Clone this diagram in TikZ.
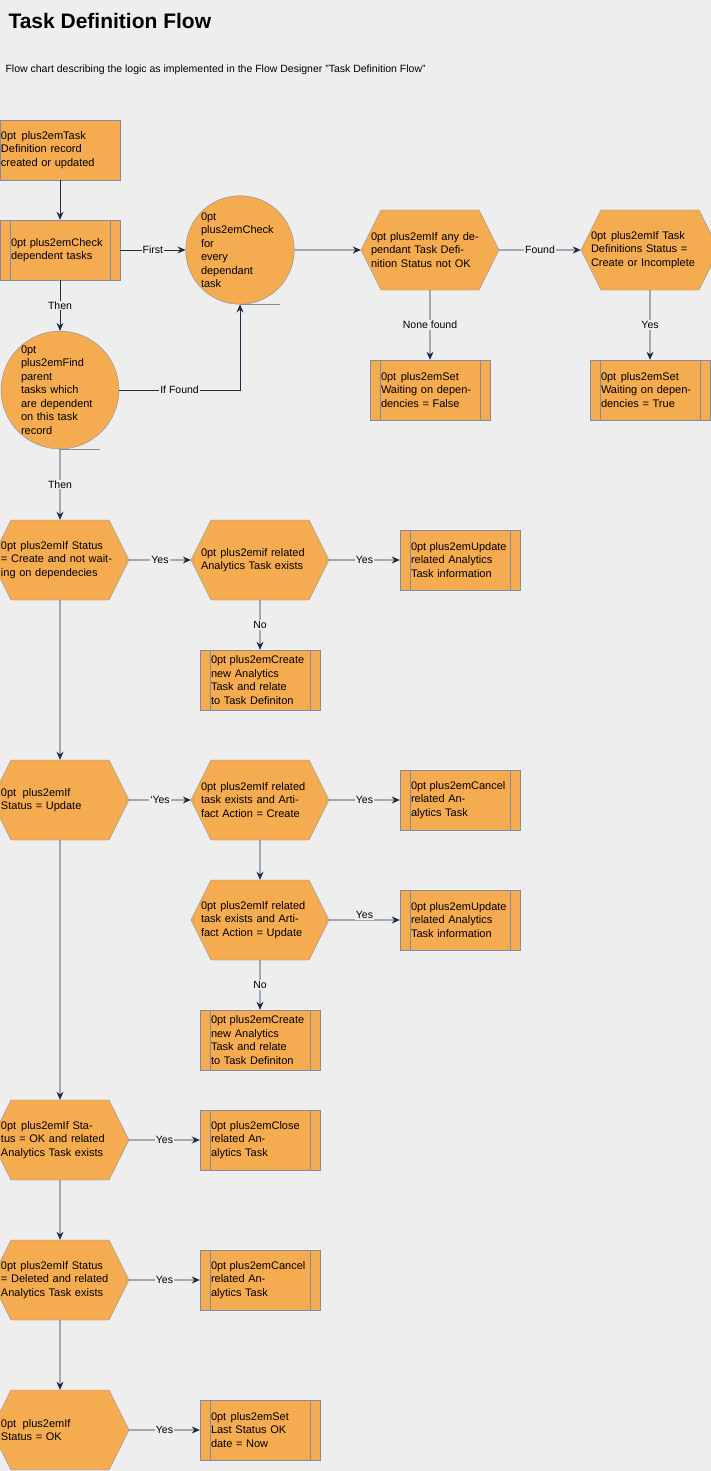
\documentclass[tikz,border=0pt]{standalone}
\usepackage{fontspec}
\setmainfont{Liberation Sans}
\usetikzlibrary{arrows.meta,shapes.symbols}
\definecolor{bgcol}{RGB}{238,238,238}
\definecolor{boxfill}{RGB}{245,171,80}
\definecolor{boxline}{RGB}{130,140,160}
\definecolor{flowline}{RGB}{26,45,70}

\begin{document}
\begin{tikzpicture}[x=1pt, y=-1pt,
  base/.style={draw=boxline, fill=boxfill, align=center, inner sep=1pt, font=\fontsize{11}{13.5}\selectfont\hyphenpenalty=10000},
  box/.style={base, rectangle, minimum width=120pt, minimum height=60pt, text width=118pt},
  proc/.style={box, text width=98pt, path picture={
      \draw[boxline] ([xshift=10pt]path picture bounding box.north west) -- ([xshift=10pt]path picture bounding box.south west);
      \draw[boxline] ([xshift=-10pt]path picture bounding box.north east) -- ([xshift=-10pt]path picture bounding box.south east);}},
  hex/.style={base, signal, signal to=east and west, signal pointer angle=126.9, minimum width=100pt, minimum height=80pt, text width=118pt, inner xsep=-10pt},
  loop/.style={base, circle, minimum size=80pt, text width=78pt, inner sep=0pt},
  arrow/.style={-{Stealth[length=8pt,width=7pt]}, draw=flowline, line width=0.8pt},
  lbl/.style={fill=bgcol, inner sep=1pt, font=\fontsize{10.5}{12}\selectfont}
]
  \fill[bgcol] (0,0) rectangle (711,1471);
  \useasboundingbox (0,0) rectangle (711,1471);
  \node[anchor=west, font=\fontsize{21}{24}\selectfont\bfseries] (title) at (5,21) {Task Definition Flow};
  \node[anchor=west, font=\fontsize{10.5}{12}\selectfont] (subtitle) at (2,70) {Flow chart describing the logic as implemented in the Flow Designer "Task Definition Flow"};

  % dependency check
  \node[box] (start) at (60,150) {Task Definition record created or updated};
  \node[proc] (check) at (60,250) {Check\\dependent tasks};
  \node[loop] (every) at (240,250) {Check for\\every\\dependant\\task};
  \node[loop] (parent) at (60,390) {Find parent\\tasks which\\are dependent\\on this task\\record};
  \node[hex] (anydep) at (430,250) {If any dependant Task Definition Status not OK};
  \node[hex] (defstat) at (650,250) {If Task Definitions Status = Create or Incomplete};
  \node[proc] (setfalse) at (430,390) {Set Waiting on dependencies = False};
  \node[proc] (settrue) at (650,390) {Set Waiting on dependencies = True};
  \draw[boxline] (every.south) -- ++(40,0);
  \draw[boxline] (parent.south) -- ++(40,0);

  % status create
  \node[hex] (ifcreate) at (60,560) {If Status = Create and not waiting on dependecies};
  \node[hex] (ifanalytics) at (260,560) {if related Analytics Task exists};
  \node[proc] (updrelA) at (460,560) {Update related Analytics Task information};
  \node[proc] (newA) at (260,680) {Create new Analytics Task and relate to Task Definiton};

  % status update
  \node[hex] (ifupdate) at (60,800) {If Status = Update};
  \node[hex] (ifrelcreate) at (260,800) {If related task exists and Artifact Action = Create};
  \node[proc] (cancelA) at (460,800) {Cancel related Analytics Task};
  \node[hex] (ifrelupdate) at (260,920) {If related task exists and Artifact Action = Update};
  \node[proc] (updrelB) at (460,920) {Update related Analytics Task information};
  \node[proc] (newB) at (260,1040) {Create new Analytics Task and relate to Task Definiton};

  % remaining states
  \node[hex] (ifok) at (60,1140) {If Status = OK and related Analytics Task exists};
  \node[proc] (close) at (260,1140) {Close related Analytics Task};
  \node[hex] (ifdeleted) at (60,1280) {If Status = Deleted and related Analytics Task exists};
  \node[proc] (cancelB) at (260,1280) {Cancel related Analytics Task};
  \node[hex] (ifokb) at (60,1430) {If Status = OK};
  \node[proc] (setlast) at (260,1430) {Set Last Status OK date = Now};

  \draw[arrow] (start) -- (check);
  \draw[arrow] (check) -- node[lbl]{First} (every);
  \draw[arrow] (check) -- node[lbl]{Then} (parent);
  \draw[arrow] (parent) -- node[lbl]{If Found} (every.south |- parent) -- (every);
  \draw[arrow] (every) -- (anydep);
  \draw[arrow] (anydep) -- node[lbl]{Found} (defstat);
  \draw[arrow] (anydep) -- node[lbl]{None found} (setfalse);
  \draw[arrow] (defstat) -- node[lbl]{Yes} (settrue);
  \draw[arrow] (parent) -- node[lbl]{Then} (ifcreate);

  \draw[arrow] (ifcreate) -- node[lbl]{Yes} (ifanalytics);
  \draw[arrow] (ifanalytics) -- node[lbl]{Yes} (updrelA);
  \draw[arrow] (ifanalytics) -- node[lbl]{No} (newA);
  \draw[arrow] (ifcreate) -- (ifupdate);

  \draw[arrow] (ifupdate) -- node[lbl]{`Yes} (ifrelcreate);
  \draw[arrow] (ifrelcreate) -- node[lbl]{Yes} (cancelA);
  \draw[arrow] (ifrelcreate) -- (ifrelupdate);
  \draw[arrow] (ifrelupdate) -- node[lbl, yshift=5pt]{Yes} (updrelB);
  \draw[arrow] (ifrelupdate) -- node[lbl]{No} (newB);
  \draw[arrow] (ifupdate) -- (ifok);

  \draw[arrow] (ifok) -- node[lbl]{Yes} (close);
  \draw[arrow] (ifok) -- (ifdeleted);
  \draw[arrow] (ifdeleted) -- node[lbl]{Yes} (cancelB);
  \draw[arrow] (ifdeleted) -- (ifokb);
  \draw[arrow] (ifokb) -- node[lbl]{Yes} (setlast);
\end{tikzpicture}
\end{document}
